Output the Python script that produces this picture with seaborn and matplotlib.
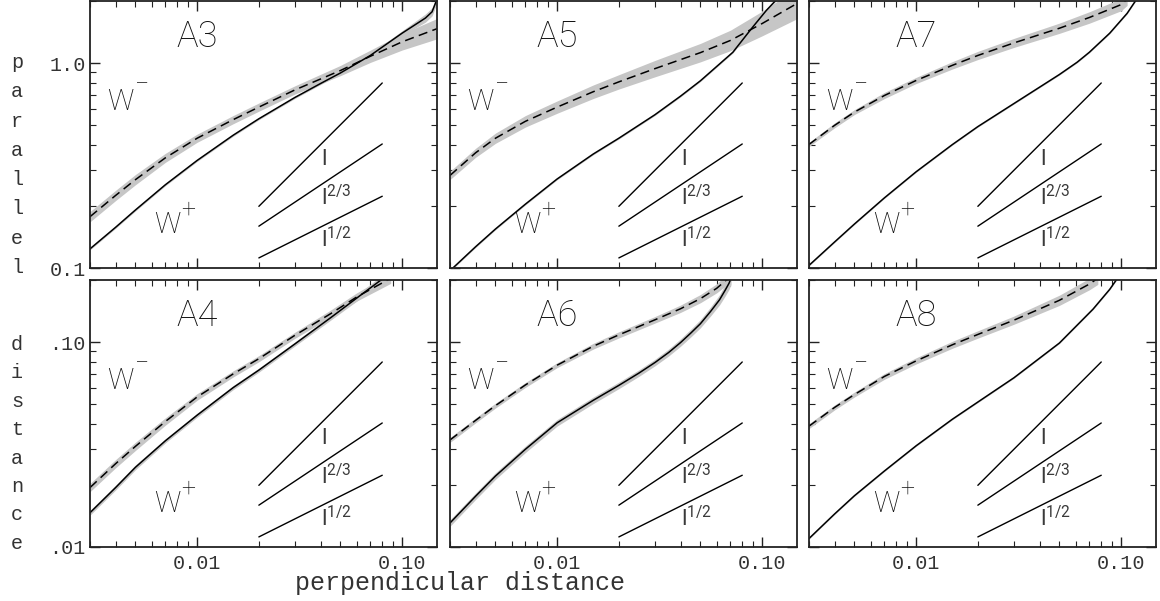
import numpy as np
import matplotlib
matplotlib.use('Agg')
import matplotlib.pyplot as plt
import seaborn as sns
from matplotlib.ticker import LogLocator, NullFormatter

# ---------------- data ----------------
# W- (dashed, grey band) and W+ (solid) structure functions, per panel
a3_xm = [0.003, 0.004, 0.005, 0.007, 0.01, 0.015, 0.02, 0.03, 0.05, 0.07, 0.1, 0.15]
a3_wm = [0.178, 0.226, 0.27, 0.345, 0.43, 0.53, 0.61, 0.74, 0.92, 1.08, 1.27, 1.48]
a3_em = [0.025, 0.025, 0.025, 0.022, 0.02, 0.02, 0.02, 0.02, 0.025, 0.03, 0.04, 0.05]
a3_xp = [0.003, 0.004, 0.005, 0.007, 0.01, 0.015, 0.02, 0.03, 0.04, 0.05, 0.07, 0.1, 0.13, 0.14, 0.148]
a3_wp = [0.124, 0.158, 0.192, 0.255, 0.335, 0.445, 0.535, 0.68, 0.795, 0.895, 1.09, 1.40, 1.66, 1.78, 2.05]
a3_ep = [0.005, 0.005, 0.005, 0.005, 0.005, 0.005, 0.005, 0.005, 0.005, 0.006, 0.008, 0.012, 0.02, 0.02, 0.02]

a5_xm = [0.003, 0.004, 0.005, 0.007, 0.01, 0.015, 0.02, 0.03, 0.05, 0.07, 0.1, 0.15]
a5_wm = [0.283, 0.365, 0.43, 0.52, 0.61, 0.725, 0.81, 0.94, 1.125, 1.29, 1.56, 1.97]
a5_em = [0.02, 0.022, 0.025, 0.028, 0.03, 0.033, 0.035, 0.04, 0.045, 0.05, 0.06, 0.075]
a5_xp = [0.003, 0.004, 0.005, 0.007, 0.01, 0.015, 0.02, 0.03, 0.04, 0.05, 0.072, 0.09, 0.105, 0.118]
a5_wp = [0.097, 0.127, 0.155, 0.205, 0.272, 0.36, 0.43, 0.56, 0.69, 0.82, 1.13, 1.50, 1.81, 2.05]
a5_ep = [0.004] * 14

a7_xm = [0.003, 0.004, 0.005, 0.007, 0.01, 0.015, 0.02, 0.03, 0.05, 0.07, 0.1, 0.107]
a7_wm = [0.401, 0.497, 0.577, 0.695, 0.823, 0.975, 1.09, 1.255, 1.48, 1.67, 1.93, 2.05]
a7_em = [0.01, 0.012, 0.012, 0.015, 0.015, 0.018, 0.02, 0.022, 0.025, 0.028, 0.03, 0.03]
a7_xp = [0.003, 0.004, 0.005, 0.007, 0.01, 0.015, 0.02, 0.03, 0.05, 0.061, 0.07, 0.088, 0.107, 0.119]
a7_wp = [0.103, 0.134, 0.164, 0.22, 0.295, 0.40, 0.49, 0.635, 0.88, 1.01, 1.13, 1.40, 1.75, 2.05]
a7_ep = [0.003] * 14

a4_xm = [0.003, 0.004, 0.005, 0.007, 0.01, 0.015, 0.02, 0.03, 0.045, 0.06, 0.088]
a4_wm = [0.0195, 0.0255, 0.031, 0.041, 0.054, 0.070, 0.083, 0.108, 0.138, 0.166, 0.205]
a4_em = [0.02, 0.02, 0.02, 0.018, 0.016, 0.015, 0.015, 0.015, 0.018, 0.02, 0.025]
a4_xp = [0.003, 0.004, 0.005, 0.007, 0.01, 0.015, 0.02, 0.03, 0.045, 0.062, 0.081]
a4_wp = [0.0147, 0.0195, 0.0245, 0.033, 0.044, 0.060, 0.073, 0.098, 0.132, 0.168, 0.205]
a4_ep = [0.012, 0.012, 0.012, 0.01, 0.01, 0.01, 0.01, 0.01, 0.012, 0.015, 0.02]

a6_xm = [0.003, 0.004, 0.005, 0.007, 0.01, 0.015, 0.02, 0.03, 0.04, 0.05, 0.06, 0.065, 0.069]
a6_wm = [0.0333, 0.0415, 0.049, 0.0618, 0.0772, 0.0955, 0.1085, 0.1285, 0.1455, 0.163, 0.183, 0.196, 0.206]
a6_em = [0.012, 0.012, 0.012, 0.012, 0.012, 0.014, 0.015, 0.016, 0.018, 0.02, 0.022, 0.025, 0.025]
a6_xp = [0.003, 0.004, 0.005, 0.007, 0.01, 0.015, 0.02, 0.025, 0.03, 0.035, 0.04, 0.045, 0.05,
         0.056, 0.062, 0.066, 0.069, 0.0705]
a6_wp = [0.0131, 0.0177, 0.0222, 0.030, 0.0404, 0.052, 0.0615, 0.0705, 0.0795, 0.089, 0.0995,
         0.111, 0.123, 0.141, 0.161, 0.179, 0.194, 0.205]
a6_ep = [0.016, 0.016, 0.016, 0.016, 0.016, 0.016, 0.016, 0.016, 0.016, 0.017, 0.018, 0.019,
         0.02, 0.022, 0.025, 0.028, 0.03, 0.03]

a8_xm = [0.003, 0.004, 0.005, 0.007, 0.01, 0.015, 0.02, 0.03, 0.05, 0.07, 0.077]
a8_wm = [0.0389, 0.048, 0.0555, 0.068, 0.081, 0.097, 0.109, 0.128, 0.160, 0.192, 0.205]
a8_em = [0.012, 0.012, 0.012, 0.014, 0.015, 0.017, 0.018, 0.02, 0.025, 0.028, 0.03]
a8_xp = [0.003, 0.004, 0.005, 0.007, 0.01, 0.015, 0.02, 0.03, 0.05, 0.073, 0.088, 0.096]
a8_wp = [0.011, 0.0145, 0.0178, 0.0235, 0.0312, 0.042, 0.051, 0.067, 0.099, 0.145, 0.181, 0.205]
a8_ep = [0.003] * 12

# power-law guides (l, l^2/3, l^1/2) for the top row; bottom row is 10x lower
guide_x = [0.02, 0.08]
guide_l = [0.2, 0.8]
guide_l23 = [0.16, 0.403]
guide_l12 = [0.112, 0.224]

names = ['A3', 'A5', 'A7', 'A4', 'A6', 'A8']
xm_all = [a3_xm, a5_xm, a7_xm, a4_xm, a6_xm, a8_xm]
wm_all = [a3_wm, a5_wm, a7_wm, a4_wm, a6_wm, a8_wm]
em_all = [a3_em, a5_em, a7_em, a4_em, a6_em, a8_em]
xp_all = [a3_xp, a5_xp, a7_xp, a4_xp, a6_xp, a8_xp]
wp_all = [a3_wp, a5_wp, a7_wp, a4_wp, a6_wp, a8_wp]
ep_all = [a3_ep, a5_ep, a7_ep, a4_ep, a6_ep, a8_ep]

# ---------------- style ----------------
sns.set_style('ticks')
plt.rcParams['font.family'] = ['Liberation Mono', 'DejaVu Sans']
plt.rcParams['mathtext.default'] = 'regular'
thin = dict(family=['Roboto', 'DejaVu Sans'], fontweight='light', color='#111111')
band = '#c6c6c6'

fig = plt.figure(figsize=(11.6, 6.01), dpi=100)
FW, FH = 1160, 601
lefts = [90, 450, 809]
tops = [1, 280]
pw, ph = 347, 267

for k, name in enumerate(names):
    row, col = divmod(k, 3)
    ax = fig.add_axes([lefts[col] / FW, 1 - (tops[row] + ph) / FH, pw / FW, ph / FH])
    ax.set_xscale('log')
    ax.set_yscale('log')
    scale = 1.0 if row == 0 else 0.1

    xm, wm, em = np.array(xm_all[k]), np.array(wm_all[k]), np.array(em_all[k])
    xp, wp, ep = np.array(xp_all[k]), np.array(wp_all[k]), np.array(ep_all[k])
    ax.fill_between(xm, wm * 10 ** (-em), wm * 10 ** em, color=band, lw=0)
    ax.fill_between(xp, wp * 10 ** (-ep), wp * 10 ** ep, color=band, lw=0)
    sns.lineplot(x=xp, y=wp, ax=ax, color='k', lw=1.1, estimator=None, sort=False)
    sns.lineplot(x=xm, y=wm, ax=ax, color='k', lw=1.1, estimator=None, sort=False,
                 linestyle=(0, (6, 3.5)))
    for g in (guide_l, guide_l23, guide_l12):
        sns.lineplot(x=guide_x, y=np.array(g) * scale, ax=ax, color='k', lw=1.0,
                     estimator=None, sort=False)

    ax.set_xlim(0.003, 0.148)
    if row == 0:
        ax.set_ylim(0.1, 2.01)
        ax.set_yticks([0.1, 1.0])
        ax.set_yticklabels(['0.1', '1.0'] if col == 0 else ['', ''])
    else:
        ax.set_ylim(0.01, 0.201)
        ax.set_yticks([0.01, 0.1])
        ax.set_yticklabels(['.01', '.10'] if col == 0 else ['', ''])
    ax.set_xticks([0.01, 0.1])
    ax.set_xticklabels(['0.01', '0.10'] if row == 1 else ['', ''])
    ax.xaxis.set_minor_locator(LogLocator(subs=np.arange(2, 10)))
    ax.yaxis.set_minor_locator(LogLocator(subs=np.arange(2, 10)))
    ax.xaxis.set_minor_formatter(NullFormatter())
    ax.yaxis.set_minor_formatter(NullFormatter())
    ax.tick_params(which='both', direction='in', top=True, right=True, colors='#222222',
                   labelcolor='#333333', labelsize=14.5)
    ax.tick_params(which='major', length=7, width=1.0)
    ax.tick_params(which='minor', length=4, width=0.8)
    ax.tick_params(axis='x', pad=5)
    ax.tick_params(axis='y', pad=3)
    for s in ax.spines.values():
        s.set_linewidth(1.3)
        s.set_color('#222222')

    tr = ax.transAxes
    ax.text(0.25, 0.865, name, transform=tr, ha='left', va='center', fontsize=26, **thin)
    ax.text(0.049, 0.59, 'W', transform=tr, ha='left', va='baseline', fontsize=21, **thin)
    ax.text(0.150, 0.687, '\u2212', transform=tr, ha='center', va='center', fontsize=18, **thin)
    ax.text(0.186, 0.13, 'W', transform=tr, ha='left', va='baseline', fontsize=21, **thin)
    ax.text(0.282, 0.22, '+', transform=tr, ha='center', va='center', fontsize=18, **thin)
    lab = dict(transform=tr, ha='left', va='baseline', fontsize=16,
               family=['Roboto', 'DejaVu Sans'], color='#3a3a3a')
    ax.text(0.665, 0.384, r'$l$', **lab)
    ax.text(0.665, 0.235, r'$l^{2/3}$', **lab)
    ax.text(0.665, 0.078, r'$l^{1/2}$', **lab)

# stacked y label
for i, ch in enumerate('parallel'):
    fig.text(17 / FW, 1 - (68 + 29.3 * i) / FH, ch, ha='center', va='baseline',
             fontsize=14.5, color='#333333')
for i, ch in enumerate('distance'):
    fig.text(17 / FW, 1 - (350 + 28.4 * i) / FH, ch, ha='center', va='baseline',
             fontsize=14.5, color='#333333')

fig.text(460 / FW, 1 - 590 / FH, 'perpendicular distance', ha='center', va='baseline',
         fontsize=18, color='#333333')

fig.savefig('out.png', dpi=100)
